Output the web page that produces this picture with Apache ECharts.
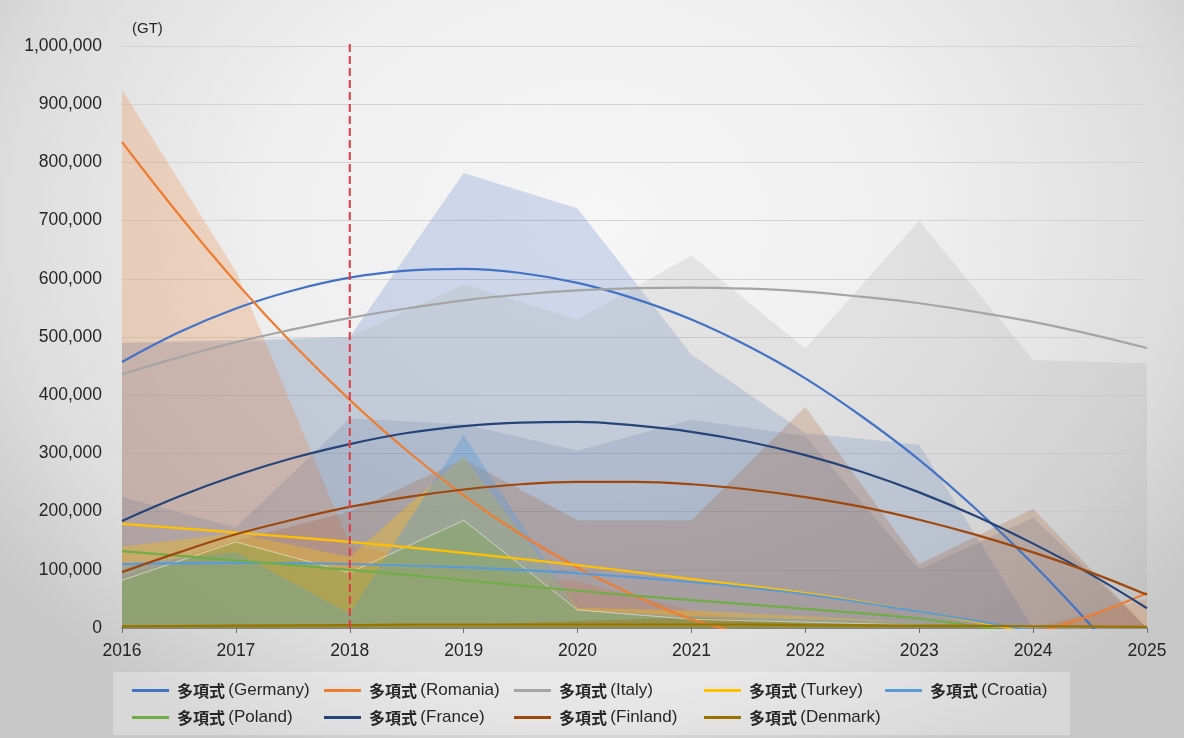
<!DOCTYPE html>
<html>
<head>
<meta charset="utf-8">
<script src="https://cdn.jsdelivr.net/npm/echarts@6/dist/echarts.min.js"></script>
<style>
  html, body { margin: 0; padding: 0; }
  #chart {
    width: 1184px; height: 738px;
    background: radial-gradient(ellipse 62% 80% at 50% 30%, #f6f6f6 0%, #efefef 45%, #dddddd 80%, #c8c8c8 100%);
  }
</style>
</head>
<body>
<div id="chart"></div>
<script>
// Years on the horizontal axis
const years = [2016, 2017, 2018, 2019, 2020, 2021, 2022, 2023, 2024, 2025];
// Half-year positions used for the curved trend lines
const trendYears = [2016, 2016.5, 2017, 2017.5, 2018, 2018.5, 2019, 2019.5, 2020, 2020.5,
                    2021, 2021.5, 2022, 2022.5, 2023, 2023.5, 2024, 2024.5, 2025];

// Yearly tonnage (GT) per country, drawn as translucent areas
const germany = [490000, 495000, 500000, 782000, 721000, 470000, 335000, 315000, 0, 0];
const romania = [925000, 613000, 143000, 100000, 80000, 30000, 0, 0, 0, 50000];
const italy   = [490000, 490000, 500000, 590000, 530000, 640000, 480000, 700000, 460000, 455000];
const turkey  = [140000, 163000, 122000, 295000, 35000, 30000, 20000, 10000, 0, 0];
const croatia = [110000, 130000, 25000, 332000, 30000, 20000, 15000, 10000, 0, 0];
const poland  = [82000, 148000, 95000, 185000, 31000, 15000, 10000, 5000, 0, 0];
const france  = [225000, 173000, 360000, 350000, 305000, 358000, 330000, 100000, 190000, 0];
const finland = [90000, 150000, 200000, 290000, 185000, 185000, 380000, 110000, 205000, 0];
const denmark = [4000, 4000, 5000, 5000, 12000, 18000, 10000, 6000, 3000, 2000];

// Polynomial trend values at half-year steps (negative parts are clipped by the axis)
const trendGermany = [457000, 508000, 549000, 580000, 602000, 614000, 617000, 610000, 593000, 566000,
                      530000, 484000, 429000, 363000, 289000, 204000, 110000, 6000, -107000];
const trendRomania = [835000, 710000, 594000, 488000, 392000, 305000, 228000, 161000, 104000, 56000,
                      15000, -11000, -30000, -39000, -38000, -29000, -9000, 21000, 60000];
const trendItaly   = [436000, 465000, 491000, 513000, 533000, 549000, 563000, 573000, 580000, 584000,
                      585000, 583000, 578000, 569000, 558000, 543000, 526000, 505000, 481000];
const trendFrance  = [184000, 226000, 262000, 292000, 316000, 335000, 347000, 353000, 354000, 348000,
                      337000, 320000, 297000, 268000, 233000, 192000, 145000, 93000, 34000];
const trendFinland = [96000, 130000, 161000, 186000, 208000, 225000, 238000, 247000, 251000, 251000,
                      247000, 238000, 225000, 208000, 186000, 160000, 130000, 96000, 57000];
// Nearly straight trend values, one per year
const trendTurkey  = [179000, 164000, 148000, 129000, 108000, 84000, 60000, 28000, -8000, -45000];
const trendCroatia = [110000, 112000, 110000, 104000, 94000, 79000, 58000, 28000, -5000, -45000];
const trendPoland  = [132000, 116000, 100000, 82000, 64000, 48000, 33000, 16000, -12000, -40000];
const trendDenmark = [3000, 4000, 5000, 6000, 6000, 6000, 5000, 4000, 3000, 2000];

// Marker year and y-axis ticks
const markerYear = 2018;
const markerTop = 1010000;
const yMin = 0, yMax = 1000000, yStep = 100000;

// Legend order; `layer` sets the drawing order of the filled areas
const countries = [
  { name: 'Germany', area: germany, trend: trendGermany, tx: trendYears, color: '#4472C4', rgb: '68,114,196',  alpha: 0.22, layer: 0 },
  { name: 'Romania', area: romania, trend: trendRomania, tx: trendYears, color: '#ED7D31', rgb: '237,125,49',  alpha: 0.24, layer: 2 },
  { name: 'Italy',   area: italy,   trend: trendItaly,   tx: trendYears, color: '#A5A5A5', rgb: '165,165,165', alpha: 0.2,  layer: 1 },
  { name: 'Turkey',  area: turkey,  trend: trendTurkey,  tx: years,      color: '#FFC000', rgb: '255,192,0',   alpha: 0.32, layer: 5 },
  { name: 'Croatia', area: croatia, trend: trendCroatia, tx: years,      color: '#5B9BD5', rgb: '91,155,213',  alpha: 0.38, layer: 6 },
  { name: 'Poland',  area: poland,  trend: trendPoland,  tx: years,      color: '#70AD47', rgb: '112,173,71',  alpha: 0.3,  layer: 7 },
  { name: 'France',  area: france,  trend: trendFrance,  tx: trendYears, color: '#264478', rgb: '38,68,120',   alpha: 0.13, layer: 3 },
  { name: 'Finland', area: finland, trend: trendFinland, tx: trendYears, color: '#9E480E', rgb: '158,72,14',   alpha: 0.2,  layer: 4 },
  { name: 'Denmark', area: denmark, trend: trendDenmark, tx: years,      color: '#997300', rgb: '153,115,0',   alpha: 0.35, layer: 8 }
];

const pairs = (xs, arr) => arr.map((v, i) => [xs[i], v]);
const trendName = n => '多項式 (' + n + ')';

const series = [];
countries.slice().sort((a, b) => a.layer - b.layer).forEach(c => {
  const outlined = c.name === 'Poland';
  series.push({
    name: c.name,
    type: 'line',
    data: pairs(years, c.area),
    showSymbol: false,
    silent: true,
    z: 1,
    lineStyle: outlined ? { width: 1, color: 'rgba(255,255,255,0.5)' } : { width: 0, opacity: 0 },
    areaStyle: { color: 'rgba(' + c.rgb + ',' + c.alpha + ')', opacity: 1 }
  });
});
countries.forEach(c => {
  series.push({
    name: trendName(c.name),
    type: 'line',
    data: pairs(c.tx, c.trend),
    smooth: 0.4,
    showSymbol: false,
    z: 3,
    clip: true,
    color: c.color,
    lineStyle: { width: 2.2, color: c.color }
  });
});
// Dashed marker at 2018
series.push({
  name: 'marker',
  type: 'line',
  data: [[markerYear, yMin], [markerYear, markerTop]],
  showSymbol: false,
  silent: true,
  clip: false,
  z: 4,
  lineStyle: { color: '#E03A44', width: 2, type: [8, 4] }
});

const fontLatin = '"Liberation Sans", Arial, sans-serif';
const fontCJK = '"Noto Sans CJK JP", "Noto Sans CJK SC", sans-serif';

// Legend laid out in columns of two rows
const columns = [
  { left: 127, items: ['Germany', 'Poland'] },
  { left: 319, items: ['Romania', 'France'] },
  { left: 509, items: ['Italy', 'Finland'] },
  { left: 699, items: ['Turkey', 'Denmark'] },
  { left: 880, items: ['Croatia'] }
];
const legends = columns.map(col => ({
  orient: 'vertical',
  left: col.left,
  top: 677,
  itemGap: 10,
  itemWidth: 37,
  itemHeight: 3,
  icon: 'rect',
  data: col.items.map(trendName),
  formatter: name => {
    const i = name.indexOf(' ');
    return '{b|' + name.slice(0, i) + '} {n|' + name.slice(i + 1) + '}';
  },
  textStyle: {
    padding: [0, 0, 0, 3],
    rich: {
      b: { fontFamily: fontCJK, fontWeight: 'bold', fontSize: 16, color: '#262626' },
      n: { fontFamily: fontLatin, fontSize: 17, color: '#262626' }
    }
  }
}));

const chart = echarts.init(document.getElementById('chart'), null, { renderer: 'canvas' });
chart.setOption({
  backgroundColor: 'transparent',
  animation: false,
  grid: { left: 122, right: 37, top: 46, bottom: 110 },
  graphic: [{
    type: 'rect',
    z: -1,
    shape: { x: 113, y: 672, width: 957, height: 63 },
    style: { fill: 'rgba(255,255,255,0.3)' }
  }],
  legend: legends,
  xAxis: {
    type: 'value',
    min: years[0],
    max: years[years.length - 1],
    interval: 1,
    axisLine: { show: true, lineStyle: { color: '#6b6b6b', width: 1.5 } },
    axisTick: { show: true, length: 5, lineStyle: { color: '#6b6b6b' } },
    splitLine: { show: false },
    axisLabel: {
      formatter: v => String(v),
      fontFamily: fontLatin, fontSize: 17.5, color: '#262626', margin: 14
    }
  },
  yAxis: {
    type: 'value',
    min: yMin,
    max: yMax,
    interval: yStep,
    name: '(GT)',
    nameLocation: 'end',
    nameGap: 10,
    nameTextStyle: { fontFamily: fontLatin, fontSize: 15, color: '#262626', align: 'left', padding: [0, 0, 0, 10] },
    axisLine: { show: false },
    axisTick: { show: false },
    splitLine: { lineStyle: { color: '#d3d3d3', width: 1 } },
    axisLabel: {
      formatter: v => v.toLocaleString('en-US'),
      fontFamily: fontLatin, fontSize: 17.5, color: '#262626', margin: 20
    }
  },
  series: series
});
</script>
</body>
</html>
